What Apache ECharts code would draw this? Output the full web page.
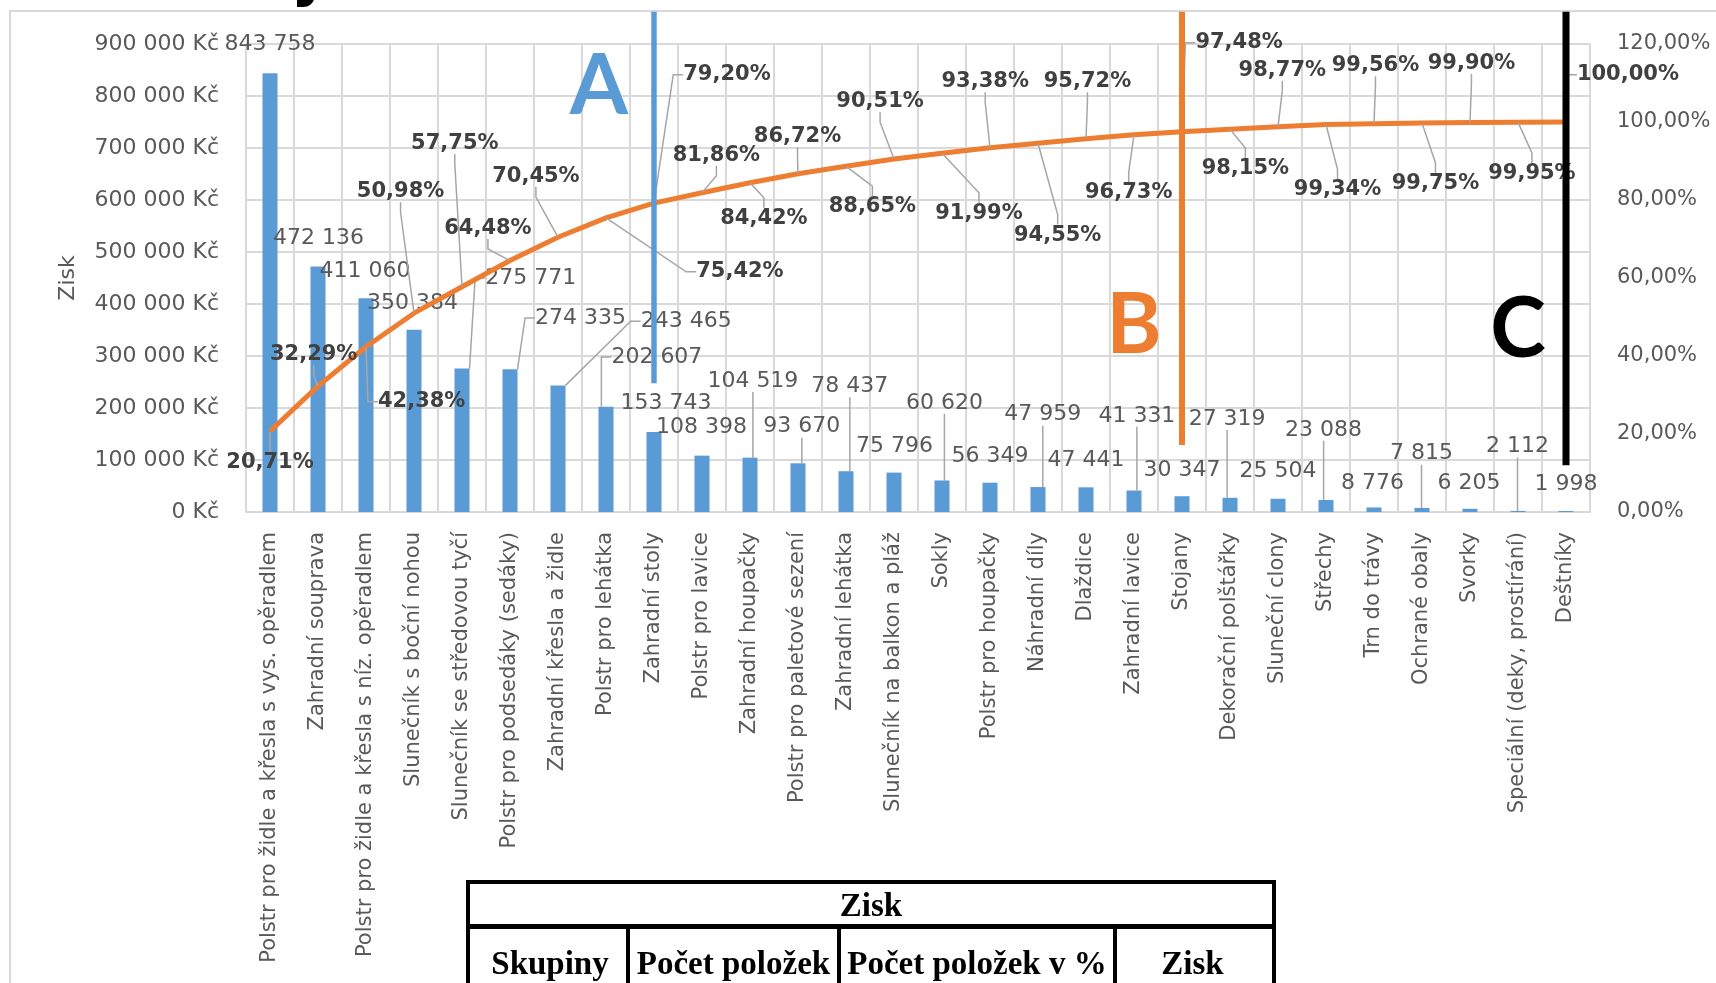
<!DOCTYPE html>
<html><head><meta charset="utf-8">
<script src="https://cdn.jsdelivr.net/npm/echarts@6/dist/echarts.min.js"></script>
<style>
html,body{margin:0;padding:0;width:1716px;height:983px;overflow:hidden;background:#fff;}
#frame{position:absolute;left:9px;top:10px;width:1800px;height:1100px;border:2px solid #D9D9D9;box-sizing:border-box;}
#chart{position:absolute;left:0;top:0;width:1716px;height:983px;}
#ttl{position:absolute;left:291px;top:-57px;font-family:'DejaVu Sans';font-weight:bold;font-size:60px;line-height:60px;color:#000;}
.bx{position:absolute;background:#000;}
.tt{position:absolute;font-family:'Liberation Serif';font-weight:bold;font-size:33px;line-height:33px;color:#000;text-align:center;white-space:nowrap;}
</style></head>
<body>
<div id="frame"></div>
<div id="ttl">y</div>
<div id="chart"></div>
<div id="tbl"></div>
<script>
// ---------- data ----------
const categories = [
  'Polstr pro židle a křesla s vys. opěradlem','Zahradní souprava','Polstr pro židle a křesla s níz. opěradlem',
  'Slunečník s boční nohou','Slunečník se středovou tyčí','Polstr pro podsedáky (sedáky)','Zahradní křesla a židle',
  'Polstr pro lehátka','Zahradní stoly','Polstr pro lavice','Zahradní houpačky','Polstr pro paletové sezení',
  'Zahradní lehátka','Slunečník na balkon a pláž','Sokly','Polstr pro houpačky','Náhradní díly','Dlaždice',
  'Zahradní lavice','Stojany','Dekorační polštářky','Sluneční clony','Střechy','Trn do trávy','Ochrané obaly',
  'Svorky','Speciální (deky, prostírání)','Deštníky'
];
const profit = [843758,472136,411060,350384,275771,274335,243465,202607,153743,108398,104519,93670,78437,75796,
  60620,56349,47959,47441,41331,30347,27319,25504,23088,8776,7815,6205,2112,1998];
const cumulativePct = [20.71,32.29,42.38,50.98,57.75,64.48,70.45,75.42,79.20,81.86,84.42,86.72,88.65,90.51,
  91.99,93.38,94.55,95.72,96.73,97.48,98.15,98.77,99.34,99.56,99.75,99.90,99.95,100.00];
const leftTicks = {min:0, max:900000, interval:100000};
const rightTicks = {min:0, max:120, interval:20};
const axisNameLeft = 'Zisk';
// label anchors in axis units: [category position, value]
const barLabelAt = [[0,900000],[1.01,527000],[1.98,463000],[2.97,402000],[5.43,450000],[6.47,373000],[8.67,367000],
  [8.06,298000],[8.25,210000],[8.99,162000],[10.06,252000],[11.08,164000],[12.08,242000],[13.01,127000],
  [14.05,210000],[15.0,108000],[16.1,187000],[17.0,99000],[18.06,185000],[19.0,81000],[19.94,179000],
  [21.0,78000],[21.95,158000],[22.97,56000],[23.99,112000],[24.98,56000],[25.99,126000],[27.0,54000]];
const barLabelLeader = [4,5,6,7,10,11,12,14,16,18,20,22,24,26];
const pctLabelAt = [[0.0,12.6],[0.91,40.3],[3.16,28.3],[2.72,82.1],[3.85,94.5],[4.54,72.7],[5.54,86.0],
  [9.79,61.6],[9.52,112.1],[9.30,91.5],[10.29,75.3],[10.99,96.2],[12.55,78.3],[12.71,105.2],[14.77,76.6],
  [14.90,110.3],[16.41,71.0],[17.03,110.3],[17.89,81.9],[20.19,120.3],[20.32,88.1],[21.09,113.3],[22.24,82.6],
  [23.03,114.4],[24.28,84.3],[25.03,115.0],[26.29,86.8],[28.29,112.1]];
// ABC zone markers: [category, top value, bottom value] (left axis units)
const zoneNames = ['A','B','C'];
const zoneLines = [[8,962000,247500],[19,962000,129000],[27,962000,90000]];
const zoneLetterAt = [[6.85,818000],[18,358600],[26,350000]];
// table text
const tableTitle = 'Zisk';
const tableHeaders = ['Skupiny','Počet položek','Počet položek v %','Zisk'];

// ---------- styles ----------
const GRID = {left:246, right:126, top:44, bottom:471};
const zoneColors = ['#5B9BD5','#ED7D31','#000000'];
const zoneWidths = [5.5,6,7];
const FONT = 'DejaVu Sans';

const chart = echarts.init(document.getElementById('chart'));
function geom(){
  const W = chart.getWidth(), H = chart.getHeight();
  const l = GRID.left, r = W - GRID.right, t = GRID.top, b = H - GRID.bottom;
  return {l, r, t, b, bw:(r-l)/categories.length};
}
function px(c){ const g = geom(); return g.l + (c + 0.5) * g.bw; }
function pyL(v){ const g = geom(); return g.b - (v - leftTicks.min) / (leftTicks.max - leftTicks.min) * (g.b - g.t); }
function pyR(v){ const g = geom(); return g.b - (v - rightTicks.min) / (rightTicks.max - rightTicks.min) * (g.b - g.t); }
const thousands = v => String(Math.round(v)).replace(/\B(?=(\d{3})+(?!\d))/g, ' ');
const pct = v => v.toFixed(2).replace('.', ',') + '%';

const barData = profit.map((v, i) => ({
  value: v,
  labelLine: {show: barLabelLeader.indexOf(i) >= 0}
}));

const option = {
  animation: false,
  grid: GRID,
  xAxis: {
    type: 'category', data: categories, boundaryGap: true,
    axisTick: {show: false},
    axisLine: {lineStyle: {color: '#D9D9D9', width: 2}},
    splitLine: {show: true, interval: 0, lineStyle: {color: '#D9D9D9', width: 2}},
    axisLabel: {rotate: 90, interval: 0, margin: 20, fontSize: 21, fontFamily: FONT, color: '#595959'}
  },
  yAxis: [{
    type: 'value', min: leftTicks.min, max: leftTicks.max, interval: leftTicks.interval,
    name: axisNameLeft, nameLocation: 'middle', nameGap: 167,
    nameTextStyle: {fontSize: 22, fontFamily: FONT, color: '#595959'},
    axisLine: {show: false}, axisTick: {show: false},
    splitLine: {lineStyle: {color: '#D9D9D9', width: 2}},
    axisLabel: {margin: 27, fontSize: 22, fontFamily: FONT, color: '#595959', formatter: v => thousands(v) + ' Kč'}
  }, {
    type: 'value', min: rightTicks.min, max: rightTicks.max, interval: rightTicks.interval,
    axisLine: {show: false}, axisTick: {show: false}, splitLine: {show: false},
    axisLabel: {margin: 27, fontSize: 21, fontFamily: FONT, color: '#595959', formatter: v => pct(v)}
  }],
  series: [{
    type: 'bar', data: barData, barWidth: 15, yAxisIndex: 0, z: 2,
    itemStyle: {color: '#5B9BD5'},
    label: {show: true, position: 'top', fontSize: 22, fontFamily: FONT, color: '#595959',
      formatter: p => thousands(p.value)},
    labelLine: {show: true, length2: 10, lineStyle: {color: '#A6A6A6', width: 1.5}},
    labelLayout: p => {
      const a = barLabelAt[p.dataIndex];
      return {x: px(a[0]), y: pyL(a[1]), align: 'center', verticalAlign: 'middle'};
    }
  }, {
    type: 'line', data: cumulativePct, yAxisIndex: 1, z: 3,
    symbol: 'circle', symbolSize: 1, showSymbol: true, showAllSymbol: true,
    itemStyle: {color: '#ED7D31'},
    lineStyle: {color: '#ED7D31', width: 5},
    label: {show: true, fontSize: 21, fontWeight: 'bold', fontFamily: FONT, color: '#404040',
      formatter: p => pct(p.value)},
    labelLine: {show: true, length2: 10, lineStyle: {color: '#A6A6A6', width: 1.5}},
    labelLayout: p => {
      const a = pctLabelAt[p.dataIndex];
      return {x: px(a[0]), y: pyR(a[1]), align: 'center', verticalAlign: 'middle'};
    }
  }, {
    type: 'custom', coordinateSystem: 'cartesian2d', yAxisIndex: 0, z: 4, silent: true, clip: false,
    data: zoneLines,
    encode: {x: 0, y: [1, 2]},
    renderItem: (params, api) => {
      const i = params.dataIndex;
      const p1 = api.coord([api.value(0), api.value(1)]);
      const p2 = api.coord([api.value(0), api.value(2)]);
      const la = zoneLetterAt[i];
      const base = Math.round(la[0]);
      const lp = api.coord([base, la[1]]);
      const bw = api.size([1, 0])[0];
      return {type: 'group', children: [
        {type: 'line', shape: {x1: p1[0], y1: p1[1], x2: p2[0], y2: p2[1]},
          style: {stroke: zoneColors[i], lineWidth: zoneWidths[i]}},
        {type: 'text', x: lp[0] + (la[0] - base) * bw, y: lp[1],
          style: {text: zoneNames[i], fill: zoneColors[i], font: 'bold 84px Lato', align: 'center', verticalAlign: 'middle'}}
      ]};
    }
  }]
};
chart.setOption(option);

// ---------- table below chart ----------
(function(){
  const t = document.getElementById('tbl');
  const L = 466, R = 1276, T = 880, rowY = 924, cols = [626, 837, 1113];
  const add = (cls, css, txt) => { const d = document.createElement('div'); d.className = cls; Object.assign(d.style, css); if (txt) d.textContent = txt; t.appendChild(d); };
  add('bx', {left: L+'px', top: T+'px', width: (R-L)+'px', height: '4px'});
  add('bx', {left: L+'px', top: T+'px', width: '4px', height: '200px'});
  add('bx', {left: (R-4)+'px', top: T+'px', width: '4px', height: '200px'});
  add('bx', {left: L+'px', top: rowY+'px', width: (R-L)+'px', height: '5px'});
  cols.forEach(x => add('bx', {left: x+'px', top: rowY+'px', width: '4px', height: '200px'}));
  add('tt', {left: L+'px', width: (R-L)+'px', top: '889px'}, tableTitle);
  const edges = [L+4, cols[0]+4, cols[1]+4, cols[2]+4, R-4];
  tableHeaders.forEach((h, i) => add('tt', {left: (edges[i]-20)+'px', width: (edges[i+1]-edges[i]+40-(i===0?0:4))+'px', top: '947px'}, h));
})();
</script>
</body></html>
